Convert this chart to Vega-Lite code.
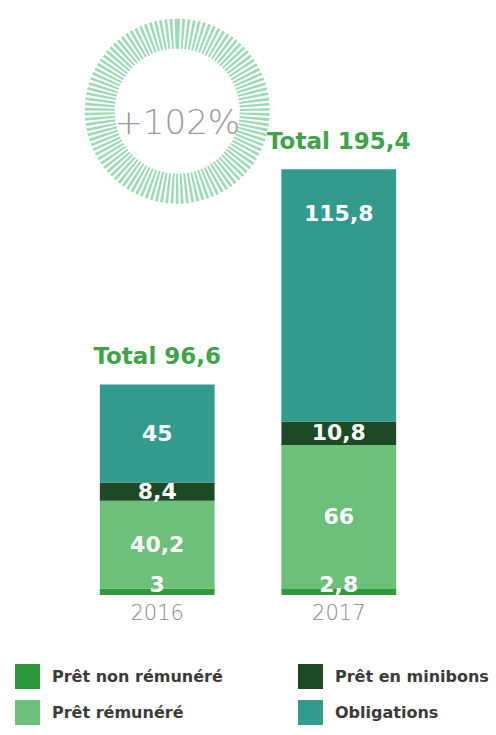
{
  "$schema": "https://vega.github.io/schema/vega-lite/v6.json",
  "width": 496,
  "height": 595,
  "autosize": {"type": "none"},
  "padding": {"left": 0, "top": 0, "right": 0, "bottom": 140},
  "background": "white",
  "config": {"view": {"stroke": null}},
  "layer": [
    {
      "data": {"values": [{"year": "2016", "y": 222}]},
      "mark": {"type": "arc", "theta": 0, "theta2": 6.2832, "radius": 77.5, "radius2": 0, "fill": "transparent", "stroke": "#93d7ac", "strokeWidth": 30, "strokeDash": [2.4, 2], "strokeOpacity": 0.9, "xOffset": 20},
      "encoding": {
        "x": {"field": "year", "type": "nominal"},
        "y": {"field": "y", "type": "quantitative"}
      }
    },
    {
      "data": {"values": [{"year": "2016", "y": 216, "label": "+102%"}]},
      "mark": {"type": "text", "fontSize": 34, "fontWeight": 200, "font": "DejaVu Sans", "color": "#9a9a9a", "xOffset": 20, "baseline": "middle"},
      "encoding": {
        "x": {"field": "year", "type": "nominal"},
        "y": {"field": "y", "type": "quantitative"},
        "text": {"field": "label"}
      }
    },
    {
      "data": {"name": "bars", "values": [
        {"year": "2016", "cat": "Prêt non rémunéré", "value": 3, "order": 1},
        {"year": "2016", "cat": "Prêt rémunéré", "value": 40.2, "order": 2},
        {"year": "2016", "cat": "Prêt en minibons", "value": 8.4, "order": 3},
        {"year": "2016", "cat": "Obligations", "value": 45, "order": 4},
        {"year": "2017", "cat": "Prêt non rémunéré", "value": 2.8, "order": 1},
        {"year": "2017", "cat": "Prêt rémunéré", "value": 66, "order": 2},
        {"year": "2017", "cat": "Prêt en minibons", "value": 10.8, "order": 3},
        {"year": "2017", "cat": "Obligations", "value": 115.8, "order": 4}
      ]},
      "transform": [
        {"stack": "value", "groupby": ["year"], "sort": [{"field": "order"}], "as": ["y0", "y1"]},
        {"calculate": "datum.value > 100 ? datum.y1 - 20.5 : (datum.value < 5 ? datum.y1 + 1.8 : (datum.y0 + datum.y1) / 2)", "as": "ly"},
        {"calculate": "replace(format(datum.value, '.1~f'), '.', ',')", "as": "vlabel"}
      ],
      "layer": [
        {
          "mark": {"type": "bar"},
          "encoding": {
            "x": {"field": "year", "type": "nominal", "scale": {"paddingInner": 0.368, "paddingOuter": 0.55},
                  "axis": {"title": null, "ticks": false, "domain": false, "labelAngle": 0, "labelAlign": "center", "labelBaseline": "top", "labelFontSize": 21, "labelFont": "DejaVu Sans", "labelFontWeight": 200, "labelColor": "#8a8a8a", "labelPadding": 7}},
            "y": {"field": "y1", "type": "quantitative", "scale": {"domain": [0, 273], "nice": false, "zero": true}, "axis": null},
            "y2": {"field": "y0"},
            "color": {"field": "cat", "type": "nominal",
                      "scale": {"domain": ["Prêt non rémunéré", "Prêt rémunéré", "Prêt en minibons", "Obligations"],
                                "range": ["#2e9a3d", "#6cc07a", "#1c4a24", "#329b8d"]},
                      "legend": {"title": null, "orient": "none", "legendX": 15, "legendY": 664, "columns": 2, "symbolType": "square", "symbolSize": 625, "symbolStrokeWidth": 0, "labelFont": "DejaVu Sans", "labelFontSize": 16, "labelFontWeight": "bold", "labelColor": "#3b3b3b", "labelOffset": 12, "rowPadding": 11, "columnPadding": 75, "labelLimit": 250}}
          }
        },
        {
          "mark": {"type": "text", "font": "DejaVu Sans", "fontWeight": "bold", "fontSize": 22, "color": "white", "baseline": "middle"},
          "encoding": {
            "x": {"field": "year", "type": "nominal"},
            "y": {"field": "ly", "type": "quantitative"},
            "text": {"field": "vlabel"}
          }
        },
        {
          "transform": [
            {"aggregate": [{"op": "sum", "field": "value", "as": "total"}], "groupby": ["year"]},
            {"calculate": "'Total ' + replace(format(datum.total, '.1f'), '.', ',')", "as": "tlabel"}
          ],
          "mark": {"type": "text", "font": "DejaVu Sans", "fontWeight": "bold", "fontSize": 23, "color": "#3ea34a", "baseline": "middle", "dy": -27},
          "encoding": {
            "x": {"field": "year", "type": "nominal"},
            "y": {"field": "total", "type": "quantitative"},
            "text": {"field": "tlabel"}
          }
        }
      ]
    }
  ]
}
